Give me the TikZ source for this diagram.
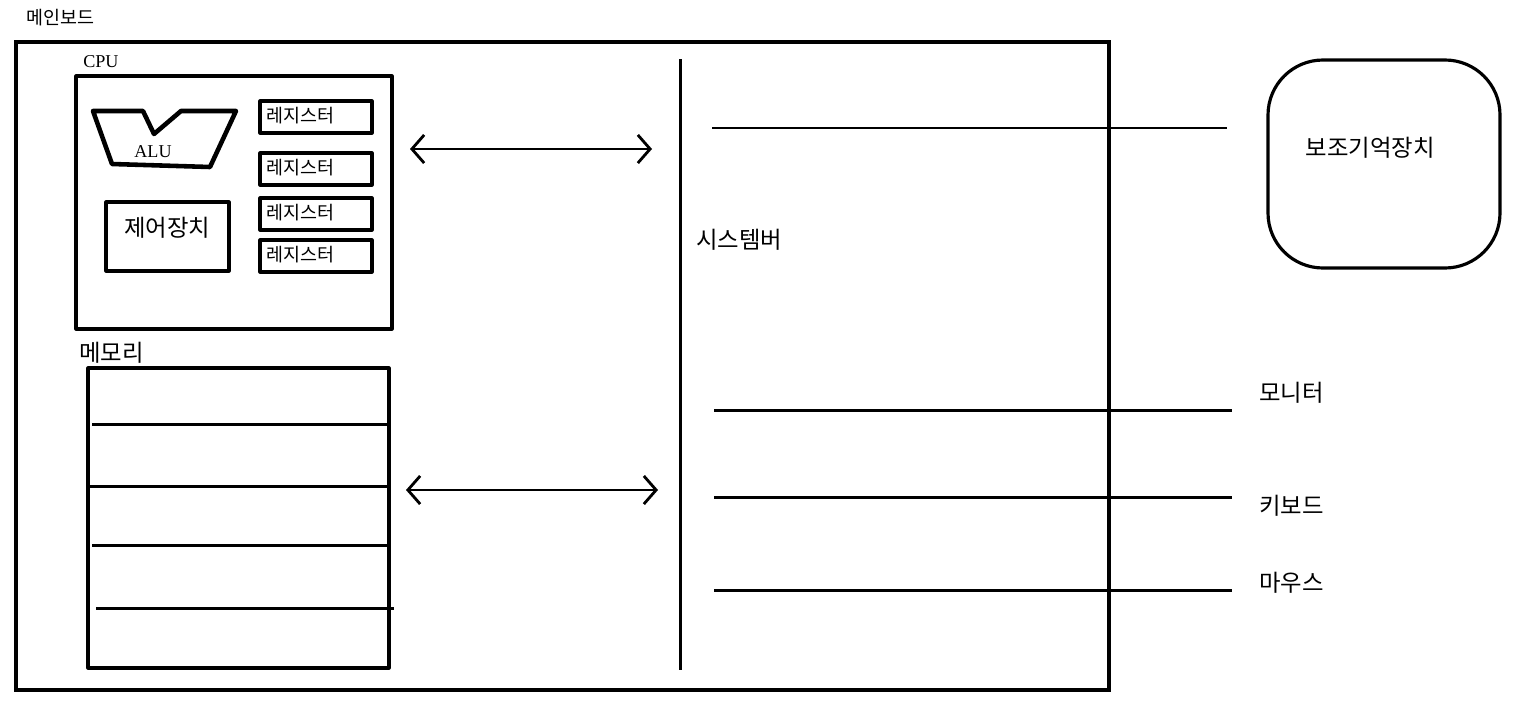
\documentclass[tikz,border=0pt]{standalone}
\usepackage{fontspec}
\setmainfont{Liberation Serif}
\newfontfamily\kofont{Noto Sans CJK KR}
\usetikzlibrary{arrows.meta}

\tikzset{
	board/.style={draw, line width=1.9pt},
	part/.style={draw, line width=1.8pt, line join=round},
	busline/.style={line width=1.7pt},
	dataflow/.style={line width=1.6pt, {Straight Barb[length=7pt,width=16pt]}-{Straight Barb[length=7pt,width=16pt]}},
	kosmall/.style={font=\kofont\fontsize{10.5}{12}\selectfont, inner sep=0pt},
	kobig/.style={font=\kofont\fontsize{13.3}{15}\selectfont, inner sep=0pt},
	latin/.style={font=\fontsize{10.3}{12}\selectfont, inner sep=0pt},
}

\begin{document}
\begin{tikzpicture}[x=0.02cm, y=-0.02cm]
	\useasboundingbox (0,0) rectangle (1514,700);
	% main board
	\node[kosmall, anchor=west] (boardlabel) at (26,18) {메인보드};
	\draw[board] (16,42) rectangle (1109,690);
	% cpu
	\node[latin, anchor=west] (cpulabel) at (83,62) {CPU};
	\draw[part] (76,76) rectangle (392,329);
	\draw[part, line width=2.6pt] (93,111) -- (143,111) -- (154,134) -- (181,111) -- (236,111) -- (210,167) -- (112,164) -- cycle;
	\node[latin] (alu) at (153,152) {ALU};
	\draw[part] (106,202) rectangle (229,271);
	\node[kobig] (control) at (167,228) {제어장치};
	\foreach \i/\t in {1/101, 2/153, 3/198, 4/240} {
		\draw[part] (260,\t) rectangle (372,{\t+32});
		\node[kosmall, anchor=west] (reg\i) at (266,{\t+15}) {레지스터};
	}
	% memory
	\node[kobig, anchor=west] (memlabel) at (79,353) {메모리};
	\draw[part] (88,368) rectangle (389,668);
	\foreach \y/\a/\b in {424/92/389, 486/90/388, 545/92/389, 608/96/394}
		\draw[busline] (\a,\y) -- (\b,\y);
	% system bus
	\coordinate (bustop) at (680,59);
	\coordinate (busbottom) at (680,670);
	\draw[busline] (bustop) -- (busbottom);
	\node[kobig, anchor=west] (buslabel) at (696,240) {시스템버};
	\coordinate (cpuport) at (410,149);
	\coordinate (cpubus) at (652,149);
	\coordinate (memport) at (406,490);
	\coordinate (membus) at (658,490);
	\draw[dataflow] (cpuport) -- (cpubus);
	\draw[dataflow] (memport) -- (membus);
	% devices
	\draw[part, rounded corners=1.1cm] (1268,60) rectangle (1500,268);
	\node[kobig] (storage) at (1370,148) {보조기억장치};
	\node[kobig, anchor=west] (monitor) at (1259,393) {모니터};
	\node[kobig, anchor=west] (keyboard) at (1259,506) {키보드};
	\node[kobig, anchor=west] (mouse) at (1259,583) {마우스};
	\coordinate (bus1) at (712,128);
	\coordinate (dev1) at (1227,128);
	\coordinate (bus2) at (714,410);
	\coordinate (dev2) at (1232,410);
	\coordinate (bus3) at (714,497);
	\coordinate (dev3) at (1232,497);
	\coordinate (bus4) at (714,590);
	\coordinate (dev4) at (1232,590);
	\foreach \k in {1,...,4}
		\draw[busline] (bus\k) -- (dev\k);
\end{tikzpicture}
\end{document}
